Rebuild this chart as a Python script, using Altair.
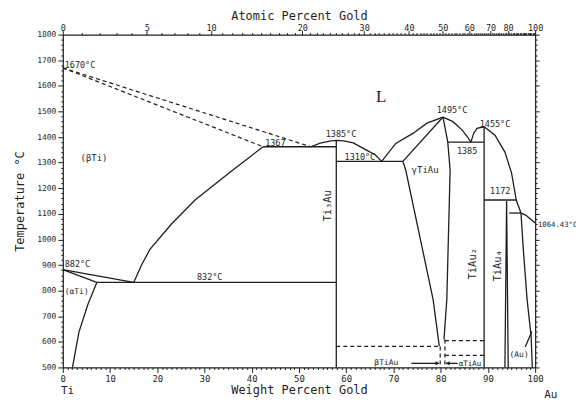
import altair as alt
import pandas as pd

INK = "#1e1e1e"
MONO = "DejaVu Sans Mono"

# ---------------- phase boundaries (weight % Au, temperature °C) ----------------
beta_liquidus_wt = [0, 52.5]
beta_liquidus_T = [1670, 1362]
beta_solidus_wt = [0, 42.4]
beta_solidus_T = [1670, 1362]
peritectic_1367_wt = [42.4, 57.9]
peritectic_1367_T = [1362, 1362]
beta_solvus_wt = [15.0, 16.7, 18.4, 23.0, 28.0, 36.0, 42.4]
beta_solvus_T = [832, 901, 960, 1060, 1154, 1271, 1362]
ti3au_liquidus_wt = [52.5, 54.5, 56.5, 57.9, 59.5, 61.5, 64.3, 66.2, 67.5]
ti3au_liquidus_T = [1362, 1376, 1384, 1387, 1385, 1377, 1349, 1330, 1305]
ti3au_wt = [57.9, 57.9]
ti3au_T = [1387, 500]
eutectic_1310_wt = [57.9, 72.0]
eutectic_1310_T = [1305, 1305]
eutectoid_832_wt = [7.2, 57.9]
eutectoid_832_T = [832, 832]
beta_transus_wt = [0, 15.0]
beta_transus_T = [882, 832]
alpha_transus_wt = [0, 7.2]
alpha_transus_T = [882, 832]
alpha_solvus_wt = [7.2, 5.3, 3.4, 2.05]
alpha_solvus_T = [832, 746, 637, 500]
gamma_liq_left_wt = [67.5, 70.5, 74.2, 77.1, 80.5]
gamma_liq_left_T = [1305, 1375, 1415, 1454, 1478]
gamma_sol_left_wt = [72.0, 80.5]
gamma_sol_left_T = [1305, 1478]
gamma_left_wt = [72.0, 72.6, 78.4, 79.7]
gamma_left_T = [1305, 1271, 765, 583]
gamma_right_wt = [80.5, 81.5, 82.0, 81.3, 80.7]
gamma_right_T = [1478, 1380, 1271, 765, 609]
gamma_liq_right_wt = [80.5, 82.6, 84.5, 85.7, 86.4]
gamma_liq_right_T = [1478, 1460, 1428, 1400, 1380]
eutectic_1385_wt = [81.5, 89.2]
eutectic_1385_T = [1380, 1380]
tiau2_liq_wt = [86.4, 87.0, 87.7, 89.2, 91.5, 93.6, 95.0, 96.0, 97.0]
tiau2_liq_T = [1380, 1415, 1434, 1440, 1407, 1341, 1260, 1154, 1103]
tiau2_wt = [89.2, 89.2]
tiau2_T = [1440, 500]
peritectic_1172_wt = [89.2, 96.0]
peritectic_1172_T = [1154, 1154]
tiau4_wt = [93.6, 93.96, 94.3]
tiau4_T = [500, 1150, 500]
peritectic_1103_wt = [94.5, 97.0]
peritectic_1103_T = [1103, 1103]
au_liquidus_wt = [97.0, 98.0, 99.0, 100.0]
au_liquidus_T = [1103, 1095, 1080, 1064]
au_solvus_wt = [97.0, 97.5, 98.3, 99.15, 99.4]
au_solvus_T = [1103, 960, 765, 621, 500]
# dashed low-temperature lines
dash_582_wt = [57.9, 79.9]
dash_582_T = [582, 582]
dash_b_wt = [79.9, 79.9]
dash_b_T = [582, 500]
dash_a_wt = [80.9, 80.9]
dash_a_T = [609, 500]
dash_605_wt = [80.9, 89.2]
dash_605_T = [605, 605]
dash_547_wt = [80.9, 89.2]
dash_547_T = [547, 547]
# arrows
arrow_beta_wt = [73.8, 79.6]
arrow_beta_T = [516, 516]
arrow_alpha_wt = [81.1, 83.6]
arrow_alpha_T = [516, 516]
arrow_au_wt = [97.9, 99.3]
arrow_au_T = [580, 640]

solid_curves = [
    ("peritectic_1367", peritectic_1367_wt, peritectic_1367_T),
    ("beta_solvus", beta_solvus_wt, beta_solvus_T),
    ("ti3au_liquidus", ti3au_liquidus_wt, ti3au_liquidus_T),
    ("ti3au", ti3au_wt, ti3au_T),
    ("eutectic_1310", eutectic_1310_wt, eutectic_1310_T),
    ("eutectoid_832", eutectoid_832_wt, eutectoid_832_T),
    ("beta_transus", beta_transus_wt, beta_transus_T),
    ("alpha_transus", alpha_transus_wt, alpha_transus_T),
    ("alpha_solvus", alpha_solvus_wt, alpha_solvus_T),
    ("gamma_liq_left", gamma_liq_left_wt, gamma_liq_left_T),
    ("gamma_sol_left", gamma_sol_left_wt, gamma_sol_left_T),
    ("gamma_left", gamma_left_wt, gamma_left_T),
    ("gamma_right", gamma_right_wt, gamma_right_T),
    ("gamma_liq_right", gamma_liq_right_wt, gamma_liq_right_T),
    ("eutectic_1385", eutectic_1385_wt, eutectic_1385_T),
    ("tiau2_liq", tiau2_liq_wt, tiau2_liq_T),
    ("tiau2", tiau2_wt, tiau2_T),
    ("peritectic_1172", peritectic_1172_wt, peritectic_1172_T),
    ("tiau4", tiau4_wt, tiau4_T),
    ("peritectic_1103", peritectic_1103_wt, peritectic_1103_T),
    ("au_liquidus", au_liquidus_wt, au_liquidus_T),
    ("au_solvus", au_solvus_wt, au_solvus_T),
    ("arrow_beta", arrow_beta_wt, arrow_beta_T),
    ("arrow_alpha", arrow_alpha_wt, arrow_alpha_T),
    ("arrow_au", arrow_au_wt, arrow_au_T),
]
dashed_curves = [
    ("beta_liquidus", beta_liquidus_wt, beta_liquidus_T),
    ("beta_solidus", beta_solidus_wt, beta_solidus_T),
    ("dash_582", dash_582_wt, dash_582_T),
    ("dash_b", dash_b_wt, dash_b_T),
    ("dash_a", dash_a_wt, dash_a_T),
    ("dash_605", dash_605_wt, dash_605_T),
    ("dash_547", dash_547_wt, dash_547_T),
]


def to_frame(curves):
    rows = []
    for name, ws, ts in curves:
        for i, (w, t) in enumerate(zip(ws, ts)):
            rows.append({"curve": name, "i": i, "wt": w, "T": t})
    return pd.DataFrame(rows)


solid_df = to_frame(solid_curves)
dashed_df = to_frame(dashed_curves)

# arrow heads
head_wt = [79.3, 81.5]
head_T = [516, 516]
head_shape = ["triangle-right", "triangle-left"]
heads_df = pd.DataFrame({"wt": head_wt, "T": head_T, "shape": head_shape})

# ---------------- labels ----------------
center_text = ["(βTi)", "1367", "1385°C", "1310°C", "1495°C", "1455°C",
               "1385", "γTiAu", "1172", "832°C", "(Au)", "βTiAu", "αTiAu", "Ti", "Au"]
center_wt = [6.6, 45.0, 58.9, 62.9, 82.4, 91.5,
             85.6, 76.7, 92.6, 31.1, 96.6, 68.5, 86.2, 1.0, 103.3]
center_T = [1318, 1376, 1411, 1320, 1504, 1450,
            1345, 1271, 1189, 854, 547, 516, 512, 407, 392]
center_size = [9, 8.5, 8.5, 8.5, 8.5, 8.5,
               8.5, 9, 8.5, 8.5, 8, 8, 7.5, 11, 11]
left_text = ["1670°C", "1064.43°C", "882°C", "(αTi)"]
left_wt = [0.4, 100.6, 0.4, 0.4]
left_T = [1683, 1057, 905, 796]
left_size = [8.5, 7.3, 8.5, 8]

center_df = pd.DataFrame({"text": center_text, "wt": center_wt, "T": center_T, "size": center_size})
left_df = pd.DataFrame({"text": left_text, "wt": left_wt, "T": left_T, "size": left_size})

phase_text = ["Ti₃Au", "TiAu₂", "TiAu₄"]
phase_wt = [56.1, 86.9, 92.2]
phase_T = [1131, 905, 897]
phase_df = pd.DataFrame({"text": phase_text, "wt": phase_wt, "T": phase_T})

liquid_df = pd.DataFrame({"text": ["L"], "wt": [67.4], "T": [1555]})

# ---------------- axes ----------------
weight_ticks = list(range(0, 101, 1))
temp_ticks = list(range(500, 1801, 20))
atomic_major = [0, 5, 10, 20, 30, 40, 50, 60, 70, 80, 100]
atomic_minor = list(range(0, 101, 1))
M_TI, M_AU = 47.87, 196.97


def at_to_wt(a):
    return 100.0 * a * M_AU / (a * M_AU + (100 - a) * M_TI)


top_tick_wt = [at_to_wt(a) for a in atomic_minor]
at_expr = f"round(100*(datum.value/{M_AU})/((datum.value/{M_AU})+((100-datum.value)/{M_TI})))"
major_list = "[" + ",".join(str(a) for a in atomic_major) + "]"
is_major_top = f"indexof({major_list}, {at_expr}) >= 0"

xscale = alt.Scale(domain=[0, 100], nice=False, zero=False)
yscale = alt.Scale(domain=[500, 1800], nice=False, zero=False)

common_axis = dict(grid=False, domainColor=INK, tickColor=INK, labelColor=INK,
                   titleColor=INK, labelFont=MONO, titleFont=MONO, labelFlush=False,
                   titleFontWeight="normal", labelOverlap=False, domainWidth=1.2)

bottom_axis = alt.Axis(orient="bottom", values=weight_ticks,
                       labelExpr="datum.value % 10 === 0 ? datum.label : ''",
                       tickSize={"condition": {"test": "datum.value % 10 === 0", "value": 5}, "value": 2},
                       labelFontSize=9, labelPadding=2, title="Weight Percent Gold",
                       titleFontSize=12, titlePadding=1, **common_axis)
left_axis = alt.Axis(orient="left", values=temp_ticks, format="d",
                     labelExpr="datum.value % 100 === 0 ? datum.label : ''",
                     tickSize={"condition": {"test": "datum.value % 100 === 0", "value": 5}, "value": 2},
                     labelFontSize=8, labelPadding=2, title="Temperature °C",
                     titleFontSize=12, titlePadding=10, **common_axis)
top_axis = alt.Axis(orient="top", values=top_tick_wt,
                    labelExpr=f"{is_major_top} ? {at_expr} : ''",
                    tickSize={"condition": {"test": is_major_top, "value": 4}, "value": 2},
                    labelFontSize=8.5, labelPadding=-2, title="Atomic Percent Gold",
                    titleFontSize=12, titlePadding=1, **common_axis)
right_axis = alt.Axis(orient="right", values=temp_ticks, labels=False, title=None,
                      tickSize={"condition": {"test": "datum.value % 100 === 0", "value": 4}, "value": 2},
                      **common_axis)

X0 = alt.X("wt:Q", scale=xscale, axis=None)
Y0 = alt.Y("T:Q", scale=yscale, axis=None)

solid = alt.Chart(solid_df).mark_line(color=INK, strokeWidth=1.3).encode(
    x=alt.X("wt:Q", scale=xscale, axis=bottom_axis),
    y=alt.Y("T:Q", scale=yscale, axis=left_axis),
    detail="curve:N",
    order="i:Q",
)
frame = alt.Chart(solid_df).mark_point(opacity=0).encode(
    x=alt.X("wt:Q", scale=xscale, axis=top_axis),
    y=alt.Y("T:Q", scale=yscale, axis=right_axis),
)
dashed = alt.Chart(dashed_df).mark_line(color=INK, strokeWidth=1.2, strokeDash=[4, 3]).encode(
    x=X0, y=Y0, detail="curve:N", order="i:Q",
)
heads = alt.Chart(heads_df).mark_point(filled=True, color=INK, size=18, opacity=1).encode(
    x=X0, y=Y0, shape=alt.Shape("shape:N", scale=None),
)
labels_c = alt.Chart(center_df).mark_text(font=MONO, color=INK, baseline="middle", align="center").encode(
    x=X0, y=Y0, text="text:N", size=alt.Size("size:Q", scale=None),
)
labels_l = alt.Chart(left_df).mark_text(font=MONO, color=INK, baseline="middle", align="left").encode(
    x=X0, y=Y0, text="text:N", size=alt.Size("size:Q", scale=None),
)
phases = alt.Chart(phase_df).mark_text(font=MONO, color=INK, fontSize=10.5, angle=270,
                                       baseline="middle", align="center").encode(
    x=X0, y=Y0, text="text:N",
)
liquid = alt.Chart(liquid_df).mark_text(font="Liberation Serif", color=INK, fontSize=17,
                                        baseline="middle", align="center").encode(
    x=X0, y=Y0, text="text:N",
)

chart = alt.layer(solid, frame, dashed, heads, labels_c, labels_l, phases, liquid).resolve_axis(
    x="independent", y="independent"
).properties(
    width=474, height=334,
    padding={"left": 55, "top": 26, "right": 41, "bottom": 36},
    autosize=alt.AutoSizeParams(type="none"),
    background="white",
).configure_view(stroke=None)

chart.save("out.html", embed_options={"renderer": "svg", "actions": False})
